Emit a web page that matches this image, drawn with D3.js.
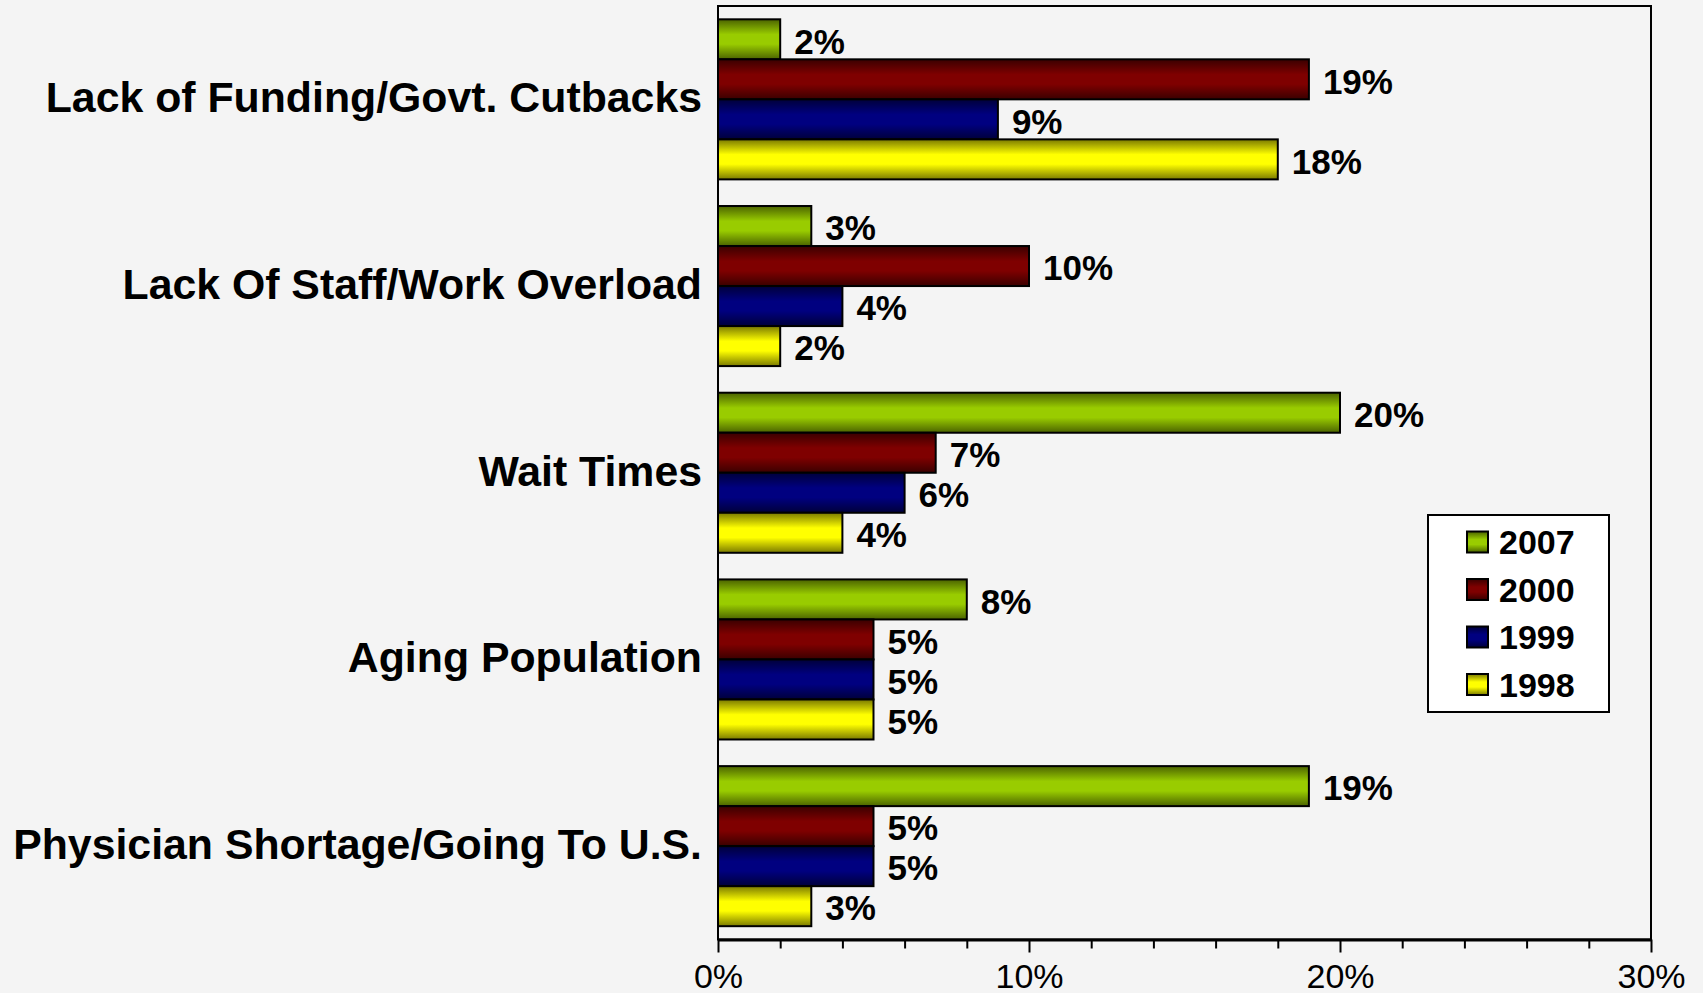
<!DOCTYPE html>
<html>
<head>
<meta charset="utf-8">
<script src="https://cdn.jsdelivr.net/npm/d3@7"></script>
<style>
    html, body { margin: 0; padding: 0; background: #f4f4f4; }
    svg { display: block; font-family: "Liberation Sans", Arial, sans-serif; }
</style>
</head>
<body>
<div id="chart"></div>
<script>
"use strict";

/***** data *****/
const categories = ["Lack of Funding/Govt. Cutbacks", "Lack Of Staff/Work Overload", "Wait Times",
                    "Aging Population", "Physician Shortage/Going To U.S."];
const years = ["2007", "2000", "1999", "1998"];
const values2007 = [2, 3, 20, 8, 19];
const values2000 = [19, 10, 7, 5, 5];
const values1999 = [9, 4, 6, 5, 5];
const values1998 = [18, 2, 4, 5, 3];
const majorTicks = [0, 10, 20, 30];

const seriesValues = [values2007, values2000, values1999, values1998];

// edge / centre colours of the bar gradients
const colors = [
    { edge: "#4b6300", mid: "#99cc00" },
    { edge: "#3a0000", mid: "#7f0000" },
    { edge: "#00003a", mid: "#000080" },
    { edge: "#7a7a00", mid: "#ffff00" }
];

const width = 1703, height = 993;
const plot = { left: 718, right: 1651, top: 6, bottom: 939.5 };

const svg = d3.select("#chart")
    .append("svg")
    .attr("width", width)
    .attr("height", height);

svg.append("rect")
    .attr("width", width)
    .attr("height", height)
    .attr("fill", "#f4f4f4");

/***** gradients *****/
const defs = svg.append("defs");
colors.forEach((c, i) => {
    let grad = defs.append("linearGradient")
        .attr("id", "grad" + i)
        .attr("x1", 0).attr("y1", 0)
        .attr("x2", 0).attr("y2", 1);
    grad.append("stop").attr("offset", 0).attr("stop-color", c.edge);
    grad.append("stop").attr("offset", 0.38).attr("stop-color", c.mid);
    grad.append("stop").attr("offset", 0.62).attr("stop-color", c.mid);
    grad.append("stop").attr("offset", 1).attr("stop-color", c.edge);
});

/***** scales *****/
const x = d3.scaleLinear()
    .domain([0, 30])
    .range([plot.left, plot.right]);

const y = d3.scaleBand()
    .domain(categories)
    .range([plot.top, plot.bottom])
    .paddingInner(0.1426)
    .paddingOuter(0.0713);

const ySub = d3.scaleBand()
    .domain(years)
    .range([0, y.bandwidth()]);

/***** plot frame *****/
svg.append("rect")
    .attr("x", plot.left)
    .attr("y", plot.top)
    .attr("width", plot.right - plot.left)
    .attr("height", plot.bottom - plot.top)
    .attr("fill", "none")
    .attr("stroke", "#000")
    .attr("stroke-width", 2);

/***** bars *****/
const groups = svg.selectAll("g.group")
    .data(categories)
    .enter()
    .append("g")
    .classed("group", true)
    .attr("transform", d => `translate(0, ${y(d)})`);

groups.selectAll("rect")
    .data((d, ci) => years.map((yr, si) => ({ year: yr, si: si, value: seriesValues[si][ci] })))
    .enter()
    .append("rect")
    .attr("x", x(0))
    .attr("y", d => ySub(d.year))
    .attr("width", d => x(d.value) - x(0))
    .attr("height", ySub.bandwidth())
    .attr("fill", d => `url(#grad${d.si})`)
    .attr("stroke", "#000")
    .attr("stroke-width", 2);

groups.selectAll("text.value")
    .data((d, ci) => years.map((yr, si) => ({ year: yr, value: seriesValues[si][ci] })))
    .enter()
    .append("text")
    .classed("value", true)
    .attr("x", d => x(d.value) + 14)
    .attr("y", d => ySub(d.year) + ySub.bandwidth() / 2 + 2)
    .attr("dy", "0.35em")
    .attr("font-size", 35)
    .attr("font-weight", "bold")
    .attr("fill", "#000")
    .text(d => d.value + "%");

/***** category labels *****/
svg.selectAll("text.cat")
    .data(categories)
    .enter()
    .append("text")
    .classed("cat", true)
    .attr("x", plot.left - 16)
    .attr("y", d => y(d) + y.bandwidth() / 2 - 2)
    .attr("dy", "0.35em")
    .attr("text-anchor", "end")
    .attr("font-size", 42.8)
    .attr("font-weight", "bold")
    .attr("fill", "#000")
    .text(d => d);

/***** x axis *****/
const minorTicks = d3.range(2, 30, 2).filter(v => v % 10 !== 0);

svg.append("g")
    .attr("transform", `translate(0, ${plot.bottom})`)
    .call(d3.axisBottom(x).tickValues(minorTicks).tickSize(9).tickFormat(""))
    .call(g => g.select(".domain").remove())
    .selectAll("line")
    .attr("stroke", "#000")
    .attr("stroke-width", 2);

const axis = svg.append("g")
    .attr("transform", `translate(0, ${plot.bottom})`)
    .call(d3.axisBottom(x).tickValues(majorTicks).tickSize(13).tickSizeOuter(0).tickFormat(d => d + "%"));

axis.select(".domain")
    .attr("stroke", "#000")
    .attr("stroke-width", 3);
axis.selectAll("line")
    .attr("stroke", "#000")
    .attr("stroke-width", 2);
axis.selectAll("text")
    .attr("y", 48)
    .attr("dy", 0)
    .attr("font-size", 34)
    .attr("font-family", "'Liberation Sans', Arial, sans-serif")
    .attr("fill", "#000");

/***** legend *****/
const legend = svg.append("g")
    .attr("transform", "translate(1428, 515)");

legend.append("rect")
    .attr("width", 181)
    .attr("height", 197)
    .attr("fill", "#fff")
    .attr("stroke", "#000")
    .attr("stroke-width", 2);

const item = legend.selectAll("g")
    .data(years)
    .enter()
    .append("g")
    .attr("transform", (d, i) => `translate(0, ${27 + i * 47.5})`);

item.append("rect")
    .attr("x", 39)
    .attr("y", -10.5)
    .attr("width", 21)
    .attr("height", 21)
    .attr("fill", (d, i) => `url(#grad${i})`)
    .attr("stroke", "#000")
    .attr("stroke-width", 2);

item.append("text")
    .attr("x", 71)
    .attr("dy", "0.36em")
    .attr("font-size", 34)
    .attr("font-weight", "bold")
    .attr("fill", "#000")
    .text(d => d);
</script>
</body>
</html>
